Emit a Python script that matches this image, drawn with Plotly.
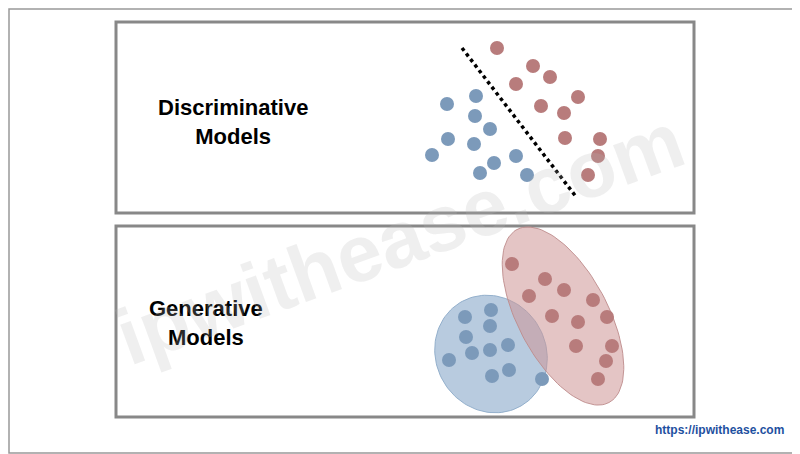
import numpy as np
import plotly.graph_objects as go

top_blue_x = [447, 476, 475, 490, 448, 474, 432, 494, 516, 480, 527]
top_blue_y = [104, 96, 116, 129, 139, 144, 155, 163, 156, 173, 175]
top_red_x = [497, 533, 550, 516, 578, 541, 564, 565, 600, 598, 588]
top_red_y = [48, 66, 77, 84, 97, 106, 113, 138, 139, 156, 175]
bot_blue_x = [465, 491, 490, 466, 490, 508, 449, 472, 509, 492, 542]
bot_blue_y = [317, 310, 326, 337, 350, 345, 360, 353, 370, 376, 379]
bot_red_x = [512, 545, 529, 564, 593, 552, 578, 607, 576, 612, 606, 598]
bot_red_y = [264, 279, 296, 290, 300, 316, 322, 317, 346, 346, 361, 379]

BLUE = "rgb(124,154,186)"
RED = "rgb(184,124,124)"

def ellipse(cx, cy, a, b, ang):
    t = np.linspace(0, 2*np.pi, 120)
    th = np.radians(ang)
    x = cx + a*np.cos(t)*np.cos(th) - b*np.sin(t)*np.sin(th)
    y = cy + a*np.cos(t)*np.sin(th) + b*np.sin(t)*np.cos(th)
    return x, y

fig = go.Figure()
ex, ey = ellipse(491, 354, 60, 55, 60)
fig.add_trace(go.Scatter(x=ex, y=ey, fill="toself", mode="lines",
    fillcolor="rgba(160,186,212,0.75)", line=dict(color="rgba(140,170,200,0.9)", width=1)))
ex, ey = ellipse(563, 316, 98, 45, 62)
fig.add_trace(go.Scatter(x=ex, y=ey, fill="toself", mode="lines",
    fillcolor="rgba(205,150,150,0.55)", line=dict(color="rgba(190,140,140,0.9)", width=1)))
for xs, ys, c in [(top_blue_x, top_blue_y, BLUE), (top_red_x, top_red_y, RED),
                  (bot_blue_x, bot_blue_y, BLUE), (bot_red_x, bot_red_y, RED)]:
    fig.add_trace(go.Scatter(x=xs, y=ys, mode="markers",
        marker=dict(size=14, color=c, line=dict(width=0))))
fig.add_trace(go.Scatter(x=[462, 577], y=[48, 198], mode="lines",
    line=dict(color="black", width=3.5, dash="dot")))

shapes = [
    dict(type="rect", xref="x", yref="y", x0=9, y0=9, x1=799, y1=453, line=dict(color="#999", width=1.5)),
    dict(type="rect", xref="x", yref="y", x0=116, y0=22, x1=694, y1=213, line=dict(color="#888", width=3), layer="below"),
    dict(type="rect", xref="x", yref="y", x0=116, y0=226, x1=694, y1=417, line=dict(color="#888", width=3), layer="below"),
]
ann = [
    dict(x=233, y=122, text="<b>Discriminative<br>Models</b>", font=dict(size=22, color="black", family="Liberation Sans")),
    dict(x=206, y=323, text="<b>Generative<br>Models</b>", font=dict(size=22, color="black", family="Liberation Sans")),
    dict(x=400, y=238, text="<b>ipwithease.com</b>", textangle=-20, font=dict(size=80, color="rgba(180,180,180,0.22)", family="Liberation Sans")),
    dict(x=719, y=430, text="<b>https://ipwithease.com</b>", font=dict(size=12, color="rgb(30,80,160)", family="Liberation Sans")),
]
for a in ann:
    a.update(xref="x", yref="y", showarrow=False)

fig.update_layout(width=800, height=454, margin=dict(l=0, r=0, t=0, b=0),
    plot_bgcolor="white", paper_bgcolor="white", showlegend=False,
    shapes=shapes, annotations=ann,
    xaxis=dict(range=[8, 808], visible=False, fixedrange=True),
    yaxis=dict(range=[462, 8], visible=False, fixedrange=True))
fig.write_html("out.html")
